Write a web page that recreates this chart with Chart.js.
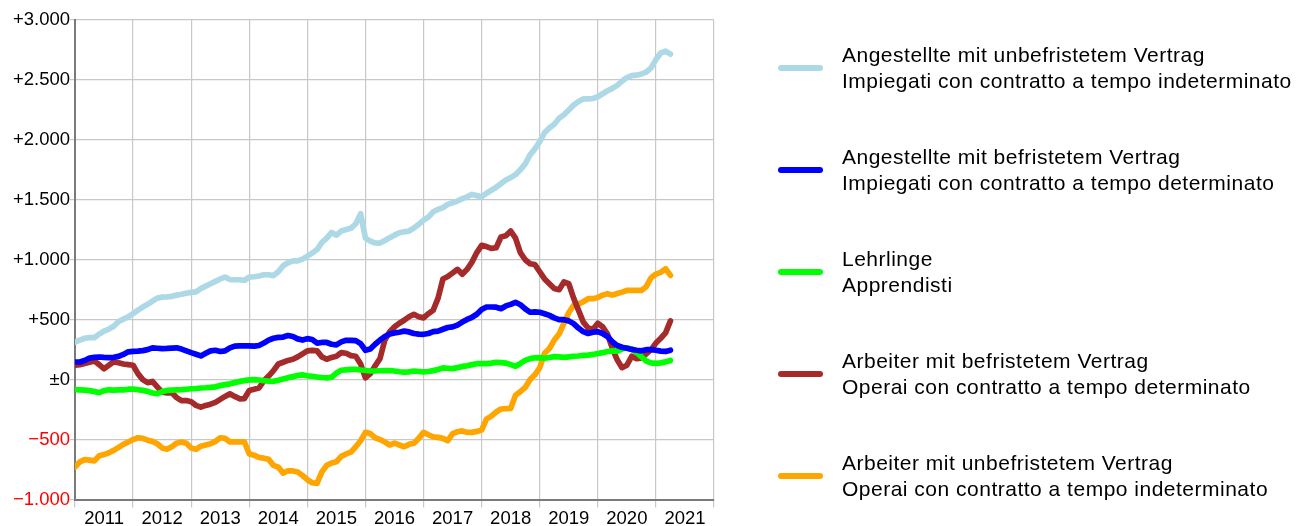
<!DOCTYPE html>
<html>
<head>
<meta charset="utf-8">
<script src="https://cdn.jsdelivr.net/npm/chart.js@4.4.1/dist/chart.umd.min.js"></script>
<style>
  html, body { margin: 0; padding: 0; background: #fff; overflow: hidden; }
  #wrap { position: relative; width: 1299px; height: 526px; }
  #c { position: absolute; left: 0; top: 0; }
  #legend { position: absolute; left: 0; top: 0; width: 1299px; height: 526px; pointer-events: none;
            font-family: 'Liberation Sans', Arial, Helvetica, sans-serif; color: #000; }
  .mk { position: absolute; border-radius: 3px; }
  .tx { position: absolute; font-size: 21px; line-height: 25.5px; letter-spacing: 0.5px; white-space: nowrap; }
</style>
</head>
<body>
<div id="wrap">
  <canvas id="c" width="1299" height="526"></canvas>
  <div id="legend"></div>
</div>
<script>
// ---- Data (monthly, January 2011 .. April 2021) ----
const yearLabels = ['2011','2012','2013','2014','2015','2016','2017','2018','2019','2020','2021'];

const seriesLabels = [
  ['Angestellte mit unbefristetem Vertrag', 'Impiegati con contratto a tempo indeterminato'],
  ['Angestellte mit befristetem Vertrag', 'Impiegati con contratto a tempo determinato'],
  ['Lehrlinge', 'Apprendisti'],
  ['Arbeiter mit befristetem Vertrag', 'Operai con contratto a tempo determinato'],
  ['Arbeiter mit unbefristetem Vertrag', 'Operai con contratto a tempo indeterminato']
];

const seriesColors = ['#add8e6', '#0000ff', '#00ff00', '#a52a2a', '#ffa500'];

const angestellteUnbefristet = [
  314,330,345,350,350,380,405,422,445,485,505,525,
  550,580,605,628,655,680,688,690,695,705,712,720,
  728,732,760,780,800,820,840,855,835,833,833,828,
  855,858,865,875,875,868,900,950,975,990,990,1005,
  1030,1055,1085,1145,1180,1228,1205,1240,1252,1262,1300,1385,
  1180,1155,1140,1139,1160,1183,1205,1225,1233,1240,1265,1295,
  1330,1355,1400,1420,1435,1462,1475,1490,1510,1525,1545,1535,
  1525,1555,1580,1605,1635,1665,1685,1710,1750,1800,1875,1925,
  1985,2060,2100,2130,2180,2210,2250,2290,2320,2342,2342,2345,
  2360,2385,2410,2430,2455,2490,2520,2536,2540,2550,2565,2600,
  2670,2725,2740,2715
];

const angestellteBefristet = [
  147,147,160,180,185,189,185,183,186,194,210,232,
  236,238,242,250,265,262,258,260,263,265,255,240,
  225,212,198,220,240,245,235,240,265,280,282,282,
  282,280,285,305,330,345,352,355,368,360,340,330,
  342,335,305,310,310,295,290,315,328,328,325,300,
  245,255,295,330,360,380,390,395,405,398,385,380,
  378,385,400,405,420,435,440,455,480,502,520,545,
  585,606,606,604,592,615,628,645,625,590,562,565,
  562,550,536,515,500,500,490,467,430,400,385,395,
  400,385,360,315,285,270,262,252,245,240,250,250,
  245,238,235,245
];

const lehrlinge = [
  -83,-85,-88,-92,-100,-108,-92,-85,-88,-86,-85,-80,
  -78,-84,-90,-98,-112,-118,-100,-90,-88,-86,-84,-80,
  -76,-74,-70,-68,-65,-60,-50,-42,-35,-25,-15,-8,
  -2,0,-3,-8,-12,-14,-5,5,15,25,35,40,
  32,28,22,18,15,20,55,78,82,85,85,80,
  76,72,72,74,75,76,72,66,62,65,72,68,
  64,68,75,85,98,95,92,100,110,115,125,133,
  133,133,138,145,142,138,125,112,135,160,175,182,
  183,178,185,192,190,185,190,195,197,203,205,210,
  218,225,235,240,238,255,265,255,225,190,155,140,
  135,140,148,160
];

const arbeiterBefristet = [
  120,125,135,145,155,125,90,120,150,140,130,125,
  120,50,0,-25,-15,-60,-105,-110,-110,-150,-175,-175,
  -185,-215,-230,-215,-205,-190,-165,-140,-118,-140,-160,-158,
  -90,-80,-70,-10,30,75,130,145,160,170,190,215,
  240,244,240,190,170,185,195,225,220,200,195,130,
  15,50,115,175,330,400,440,470,495,525,545,525,
  515,550,580,680,840,860,890,920,880,920,980,1060,
  1120,1110,1095,1100,1190,1200,1240,1180,1060,1000,967,960,
  900,840,800,760,750,815,800,680,580,480,430,420,
  470,440,380,260,165,100,120,195,175,180,215,250,
  305,345,390,490
];

const arbeiterUnbefristet = [
  -730,-686,-667,-672,-678,-635,-625,-610,-590,-565,-540,-520,
  -500,-485,-490,-505,-515,-535,-570,-580,-560,-530,-520,-530,
  -570,-582,-555,-545,-535,-515,-485,-490,-519,-520,-519,-520,
  -620,-630,-650,-655,-665,-715,-730,-780,-760,-762,-770,-800,
  -835,-860,-865,-770,-715,-695,-685,-640,-620,-605,-560,-510,
  -440,-450,-485,-500,-520,-545,-530,-545,-560,-540,-530,-490,
  -440,-460,-478,-482,-490,-510,-450,-435,-428,-440,-440,-432,
  -420,-330,-305,-270,-245,-242,-240,-130,-100,-65,0,40,
  100,220,260,330,380,470,560,620,630,650,675,675,
  685,705,717,705,718,730,744,744,744,744,775,850,
  880,895,925,870
];

const seriesValues = [angestellteUnbefristet, angestellteBefristet, lehrlinge, arbeiterBefristet, arbeiterUnbefristet];

// ---- helpers ----
const FONT = "'Liberation Sans', Arial, Helvetica, sans-serif";
function fmt(v) {
  if (v === 0) return '\u00B10';
  const a = Math.abs(v);
  const s = a >= 1000 ? Math.floor(a / 1000) + '.' + String(a % 1000).padStart(3, '0') : String(a);
  return (v > 0 ? '+' : '\u2212') + s;
}

const datasets = seriesValues.map((vals, k) => ({
  label: seriesLabels[k].join(' / '),
  data: vals.map((v, i) => ({ x: i, y: v })),
  borderColor: seriesColors[k],
  backgroundColor: seriesColors[k],
  borderWidth: 5.7,
  pointRadius: 0,
  tension: 0,
  fill: false,
  borderCapStyle: 'round',
  borderJoinStyle: 'round'
}));

new Chart(document.getElementById('c'), {
  type: 'line',
  data: { datasets },
  options: {
    responsive: false,
    animation: false,
    layout: { padding: { top: 20, right: 585, left: 0, bottom: 0 } },
    plugins: { legend: { display: false }, tooltip: { enabled: false } },
    scales: {
      x: {
        type: 'linear', min: 0, max: 132,
        afterBuildTicks: (s) => { const t = []; for (let v = 0; v <= 132; v += 6) t.push({ value: v }); s.ticks = t; },
        ticks: {
          autoSkip: false, maxRotation: 0, minRotation: 0,
          callback: (v) => (v % 12 === 6 ? yearLabels[(v - 6) / 12] : ''),
          font: { size: 18.5, family: FONT }, color: '#000', padding: 0.5
        },
        grid: {
          color: (c) => (c.tick && c.tick.value % 12 === 0 ? '#c8c8c8' : 'rgba(0,0,0,0)'),
          tickLength: 8, lineWidth: 1.2
        },
        border: { color: '#7a7a7a', width: 2 },
        afterFit: (s) => { s.height = 26.5; }
      },
      y: {
        min: -1000, max: 3000,
        ticks: {
          stepSize: 500, callback: (v) => fmt(v),
          color: (c) => (c.tick && c.tick.value < 0 ? '#ff0000' : '#000'),
          font: { size: 18.5, family: FONT }, padding: 0
        },
        grid: { color: '#c8c8c8', tickLength: 5, lineWidth: 1.2 },
        border: { color: '#7a7a7a', width: 2 },
        afterFit: (s) => { s.width = 75; }
      }
    }
  }
});

// ---- legend (HTML, two-line labels) ----
const lg = document.getElementById('legend');
seriesLabels.forEach((lines, k) => {
  const cy = 68.2 + 102 * k;
  const mk = document.createElement('div');
  mk.className = 'mk';
  mk.style.left = '778px'; mk.style.top = (cy - 2.85) + 'px';
  mk.style.width = '45px'; mk.style.height = '5.7px';
  mk.style.background = seriesColors[k];
  lg.appendChild(mk);
  const tx = document.createElement('div');
  tx.className = 'tx';
  tx.style.left = '842px'; tx.style.top = (cy - 26.2) + 'px';
  tx.innerHTML = lines.map(l => l.replace(/&/g, '&amp;').replace(/</g, '&lt;')).join('<br>');
  lg.appendChild(tx);
});
</script>
</body>
</html>
